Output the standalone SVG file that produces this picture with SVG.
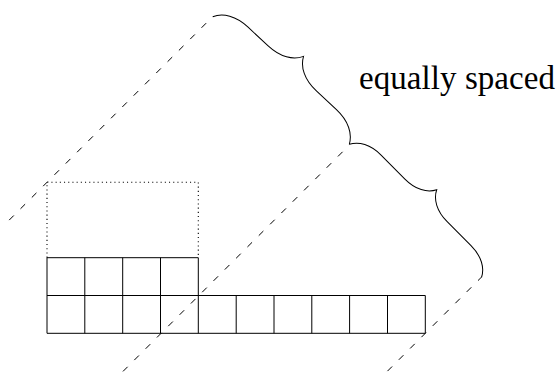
<svg xmlns="http://www.w3.org/2000/svg" width="558" height="373" viewBox="0 0 558 373">
<style>
.grid{fill:none;stroke:#000;stroke-width:1}
.dot{fill:none;stroke:#000;stroke-width:1.1;stroke-dasharray:1.1 3.1}
.dash{fill:none;stroke:#000;stroke-width:1;stroke-dasharray:6.5 9.5}
.brace{fill:none;stroke:#000;stroke-width:1}
</style>
<rect width="558" height="373" fill="#fff"/>
<g id="dotted-box">
<path class="dot" d="M47,257.7 L47,182.3 L198.3,182.3 L198.3,257.7"/>
</g>
<g id="grid">
<path class="grid" d="M47,257.7 H198.3 M47,295.5 H425.3 M47,333.3 H425.3 M47,257.7 V333.3 M84.8,257.7 V333.3 M122.7,257.7 V333.3 M160.5,257.7 V333.3 M198.3,257.7 V333.3 M236.2,295.5 V333.3 M274,295.5 V333.3 M311.8,295.5 V333.3 M349.6,295.5 V333.3 M387.5,295.5 V333.3 M425.3,295.5 V333.3"/>
</g>
<g id="connectors">
<line class="dash" x1="9.2" y1="220.1" x2="212.7" y2="16.6"/>
<line class="dash" x1="123" y1="371.4" x2="349.3" y2="145.1"/>
<line class="dash" x1="387.5" y1="371.1" x2="481.5" y2="277.1"/>
</g>
<g id="brace1">
<path class="brace" transform="translate(212.7,16.7) rotate(43.05)" d="M0,0 C4.95,-9.9 16.5,-16.5 33,-16.5 L60.47,-16.5 C76.97,-16.5 88.52,-23.1 93.47,-33 C98.42,-23.1 109.97,-16.5 126.47,-16.5 L153.93,-16.5 C170.43,-16.5 181.98,-9.9 186.93,0"/>
</g>
<g id="brace2">
<path class="brace" transform="translate(349.3,144.3) rotate(45.22)" d="M0,0 C4.5,-9 15,-15 30,-15 L63.84,-15 C78.84,-15 89.34,-21 93.84,-30 C98.34,-21 108.84,-15 123.84,-15 L157.67,-15 C172.67,-15 183.17,-9 187.67,0"/>
</g>
<g id="label">
<text x="359" y="89" font-family="'Liberation Serif', 'Times New Roman', serif" font-size="33" fill="#000" textLength="196" lengthAdjust="spacing">equally spaced</text>
</g>
</svg>
